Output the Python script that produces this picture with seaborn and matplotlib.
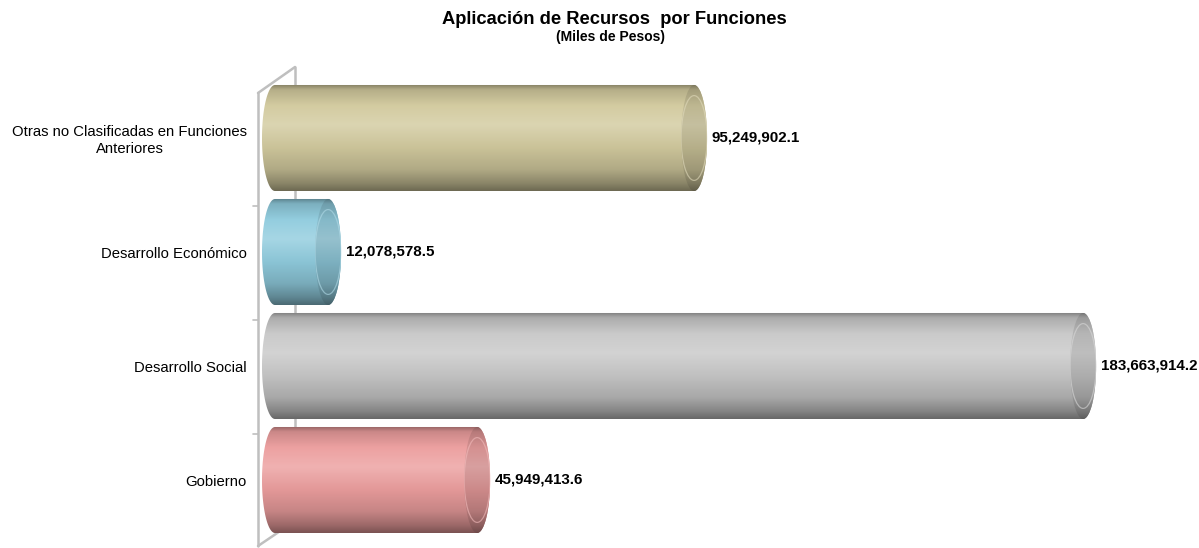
import numpy as np
import matplotlib
matplotlib.use("Agg")
import matplotlib.pyplot as plt
import seaborn as sns
from matplotlib.colors import to_rgb
from matplotlib.path import Path
from matplotlib.patches import PathPatch, Ellipse


# datos
categorias = [
    "Otras no Clasificadas en Funciones\nAnteriores",
    "Desarrollo Económico",
    "Desarrollo Social",
    "Gobierno",
]
valores = [95249902.1, 12078578.5, 183663914.2, 45949413.6]
colores = ["#D2CA9E", "#90CCDE", "#C8C8C8", "#EC9E9E"]
etiquetas = [f"{v:,.1f}" for v in valores]

titulo = "Aplicación de Recursos  por Funciones"
subtitulo = "(Miles de Pesos)"


sns.set_theme(style="white")
plt.rcParams["font.family"] = ["Liberation Sans", "DejaVu Sans"]
plt.rcParams["text.color"] = "black"

W, H = 1199, 548
fig = plt.figure(figsize=(W / 100, H / 100), dpi=100)

# escala: ~4.4 px por millon, cero en x=275 px
u = 1e6 / 4.40
x_cero = 275
ax = fig.add_axes([255 / W, (H - 537) / H, (W - 255) / W, 456 / H])

sns.barplot(
    x=valores,
    y=categorias,
    hue=categorias,
    palette=colores,
    orient="h",
    width=0.93,
    legend=False,
    ax=ax,
)


def dx(px):
    return (px - x_cero) * u


def dy(py):
    return -0.5 + (py - 81) / 114


def gradiente(color, oscuro=1.0):
    c = np.array(to_rgb(color))
    blanco = np.ones(3)
    stops = [
        (0.00, c * 0.62),
        (0.05, c * 0.86),
        (0.20, c * 0.97 + blanco * 0.03),
        (0.38, c * 0.80 + blanco * 0.20),
        (0.60, c * 0.96),
        (0.80, c * 0.84),
        (0.93, c * 0.66),
        (1.00, c * 0.52),
    ]
    t = np.linspace(0, 1, 200)
    pos = [s[0] for s in stops]
    arr = np.zeros((200, 1, 3))
    for k in range(3):
        arr[:, 0, k] = np.interp(t, pos, [s[1][k] for s in stops])
    return np.clip(arr * oscuro, 0, 1)


hw = 13 * u  # semiancho de la tapa eliptica
ang = np.linspace(-np.pi / 2, np.pi / 2, 60)

for p, color in zip(list(ax.patches), colores):
    w = p.get_width()
    y0 = p.get_y()
    h = p.get_height()
    yc = y0 + h / 2
    p.set_visible(False)

    # contorno del cilindro
    der = np.column_stack([w + hw * np.cos(ang), yc + h / 2 * np.sin(ang)])
    izq = np.column_stack([-hw * np.cos(ang[::-1]), yc + h / 2 * np.sin(ang[::-1])])
    verts = np.vstack([der, izq, der[:1]])
    contorno = PathPatch(Path(verts, closed=True), transform=ax.transData,
                         facecolor="none", edgecolor="none")
    ax.add_patch(contorno)

    img = ax.imshow(gradiente(color), extent=(-hw, w + hw, y0 + h, y0),
                    origin="upper", aspect="auto", interpolation="bicubic",
                    zorder=2)
    img.set_clip_path(contorno)

    # tapa derecha
    tapa = Ellipse((w, yc), 2 * hw, h, transform=ax.transData,
                   facecolor="none", edgecolor="none", zorder=3)
    ax.add_patch(tapa)
    img2 = ax.imshow(gradiente(color, 0.9), extent=(w - hw, w + hw, y0 + h, y0),
                     origin="upper", aspect="auto", interpolation="bicubic",
                     zorder=2.5)
    img2.set_clip_path(tapa)
    # brillo en el borde de la tapa
    brillo = Ellipse((w, yc), 2 * hw, h * 0.8, transform=ax.transData,
                     facecolor="none",
                     edgecolor=np.clip(np.array(to_rgb(color)) * 0.7 + 0.3, 0, 1),
                     lw=0.9, alpha=0.6, zorder=2.6)
    ax.add_patch(brillo)
    brillo.set_clip_path(tapa)

# marco 3d
gris = "#BFBFBF"
kw = dict(color=gris, lw=1.8, zorder=0.5, clip_on=False)
ax.plot([dx(295), dx(295)], [dy(67), dy(521)], **kw)
ax.plot([dx(258), dx(295)], [dy(93), dy(67)], **kw)
ax.plot([dx(258), dx(258)], [dy(93), dy(546)], **kw)
ax.plot([dx(258), dx(295)], [dy(546), dy(521)], **kw)
for b in [0.5, 1.5, 2.5]:
    ax.plot([dx(253), dx(258)], [b + 0.1, b + 0.1], color=gris, lw=1.2,
            zorder=0.5, clip_on=False)

# etiquetas de valor
for i, (v, etq) in enumerate(zip(valores, etiquetas)):
    ax.annotate(etq, (v + hw, i), xytext=(3.5, 0), textcoords="offset points",
                va="center", ha="left", fontsize=10.9, fontweight="bold",
                color="black")

ax.set_xlim(dx(255), dx(W))
ax.set_ylim(3.5, -0.5)
ax.set_xticks([])
ax.set_xlabel("")
ax.set_ylabel("")
ax.tick_params(axis="y", length=0, pad=5.8, labelsize=10.7, labelcolor="black")
for lab in ax.get_yticklabels():
    lab.set_multialignment("center")
sns.despine(ax=ax, left=True, bottom=True)

fig.text(614 / W, 1 - 20 / H, titulo, ha="center", va="center",
         fontsize=13.2, fontweight="bold", color="black")
fig.text(611 / W, 1 - 37 / H, subtitulo, ha="center", va="center",
         fontsize=10, fontweight="bold", color="black")

fig.savefig("out.png", dpi=100)
